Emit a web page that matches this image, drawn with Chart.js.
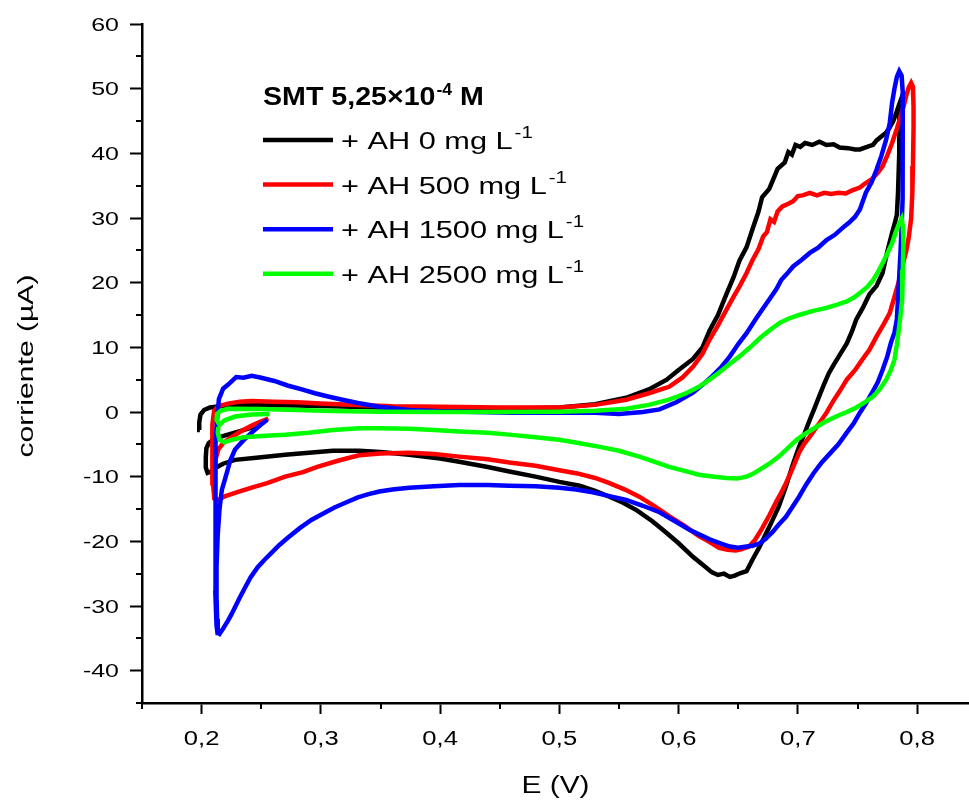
<!DOCTYPE html>
<html lang="es">
<head>
  <meta charset="UTF-8">
  <title>Voltametría cíclica SMT + AH</title>
  <script src="https://cdn.jsdelivr.net/npm/chart.js"></script>
  <style>
    body { margin: 0; background: #fff; }
    canvas { display: block; }
  </style>
</head>
<body>
  <canvas id="chart" width="969" height="800"></canvas>

  <script>
    // E (V) / corriente (uA)
    const eBlack = [0.1985, 0.198, 0.199, 0.202, 0.207, 0.215, 0.23, 0.25, 0.28, 0.31, 0.35, 0.40, 0.45, 0.50, 0.53, 0.556, 0.575, 0.59, 0.60, 0.612, 0.62, 0.626, 0.633, 0.640, 0.646, 0.651, 0.657, 0.662, 0.667, 0.670, 0.676, 0.683, 0.689, 0.692, 0.695, 0.698, 0.702, 0.706, 0.712, 0.718, 0.724, 0.730, 0.735, 0.742, 0.748, 0.752, 0.758, 0.763, 0.766, 0.770, 0.774, 0.777, 0.780, 0.783, 0.785, 0.786, 0.7855, 0.785, 0.784, 0.783, 0.781, 0.779, 0.775, 0.771, 0.766, 0.760, 0.755, 0.749, 0.745, 0.741, 0.735, 0.730, 0.726, 0.722, 0.718, 0.714, 0.710, 0.705, 0.701, 0.696, 0.690, 0.684, 0.676, 0.668, 0.662, 0.657, 0.652, 0.647, 0.643, 0.638, 0.633, 0.628, 0.620, 0.612, 0.600, 0.590, 0.578, 0.565, 0.553, 0.542, 0.530, 0.517, 0.50, 0.48, 0.458, 0.44, 0.416, 0.40, 0.374, 0.35, 0.332, 0.31, 0.29, 0.27, 0.25, 0.228, 0.218, 0.213, 0.208, 0.205, 0.2035, 0.2035, 0.204, 0.206, 0.209, 0.215, 0.222, 0.235, 0.25];
    const iBlack = [-2.8, -1.6, -0.4, 0.3, 0.7, 0.9, 1.0, 1.1, 1.0, 0.9, 0.7, 0.6, 0.5, 0.7, 1.2, 2.2, 3.5, 5.0, 6.5, 8.2, 10.0, 12.6, 15.0, 18.2, 20.8, 23.4, 25.5, 28.3, 31.0, 33.2, 34.5, 37.6, 38.6, 40.2, 39.8, 41.3, 41.0, 41.6, 41.3, 41.8, 41.3, 41.4, 40.9, 40.8, 40.6, 40.6, 41.0, 41.3, 42.0, 42.6, 43.2, 44.0, 45.0, 46.5, 47.6, 48.1, 46.0, 40.0, 34.0, 30.5, 29.0, 27.7, 24.8, 21.5, 19.5, 18.2, 16.3, 14.3, 12.3, 10.6, 8.8, 7.3, 6.0, 4.3, 2.5, 0.6, -1.2, -3.6, -5.4, -8.0, -11.5, -14.6, -17.8, -20.8, -22.8, -24.6, -24.9, -25.3, -25.5, -25.0, -25.2, -24.8, -23.6, -22.4, -20.3, -18.7, -16.9, -15.2, -14.0, -13.1, -12.2, -11.4, -10.8, -10.0, -9.2, -8.5, -7.7, -7.2, -6.6, -6.2, -6.0, -6.0, -6.3, -6.6, -7.0, -7.4, -8.0, -8.5, -9.2, -9.4, -8.6, -7.0, -5.6, -4.8, -4.4, -3.9, -3.5, -2.8, -2.0];

    const eRed = [0.256, 0.248, 0.24, 0.232, 0.225, 0.218, 0.214, 0.2115, 0.2105, 0.2105, 0.211, 0.2095, 0.209, 0.209, 0.2105, 0.214, 0.222, 0.232, 0.242, 0.26, 0.28, 0.30, 0.33, 0.36, 0.40, 0.45, 0.50, 0.53, 0.556, 0.575, 0.592, 0.603, 0.612, 0.620, 0.626, 0.633, 0.640, 0.646, 0.651, 0.657, 0.662, 0.667, 0.671, 0.674, 0.677, 0.680, 0.683, 0.687, 0.692, 0.696, 0.700, 0.704, 0.710, 0.716, 0.722, 0.728, 0.734, 0.740, 0.746, 0.752, 0.756, 0.762, 0.767, 0.771, 0.775, 0.779, 0.783, 0.786, 0.789, 0.791, 0.793, 0.795, 0.7965, 0.797, 0.797, 0.7965, 0.796, 0.795, 0.793, 0.791, 0.788, 0.785, 0.781, 0.777, 0.772, 0.766, 0.760, 0.754, 0.748, 0.741, 0.735, 0.730, 0.724, 0.717, 0.710, 0.705, 0.701, 0.695, 0.690, 0.686, 0.682, 0.676, 0.670, 0.664, 0.659, 0.653, 0.648, 0.641, 0.634, 0.625, 0.617, 0.605, 0.592, 0.580, 0.567, 0.555, 0.542, 0.53, 0.515, 0.50, 0.48, 0.458, 0.44, 0.416, 0.395, 0.374, 0.35, 0.332, 0.315, 0.297, 0.285, 0.270, 0.255, 0.242, 0.230, 0.220, 0.2135, 0.211];
    const iRed = [-1.0, -1.6, -2.3, -3.1, -3.9, -4.8, -5.8, -7.5, -10.5, -13.0, -13.6, -11.0, -6.0, -2.0, 0.2, 0.9, 1.3, 1.6, 1.7, 1.6, 1.5, 1.3, 1.1, 0.9, 0.8, 0.7, 0.7, 1.1, 1.9, 2.9, 3.9, 5.3, 7.0, 9.0, 11.2, 13.4, 15.8, 17.8, 19.4, 21.5, 23.5, 25.2, 27.2, 27.8, 29.8, 29.4, 31.0, 31.8, 32.2, 32.6, 33.4, 33.5, 33.9, 33.5, 33.9, 33.7, 33.9, 33.8, 34.3, 34.7, 35.3, 36.0, 37.0, 38.0, 39.7, 41.6, 43.8, 45.6, 47.5, 49.0, 50.2, 50.9, 50.3, 47.0, 44.0, 38.0, 34.0, 30.0, 27.0, 25.0, 22.8, 20.4, 17.8, 15.3, 13.6, 11.7, 9.6, 8.1, 6.5, 5.0, 3.2, 1.8, -0.1, -2.0, -3.8, -5.0, -6.3, -9.0, -11.0, -12.5, -13.8, -16.0, -18.0, -19.8, -20.8, -21.2, -21.4, -21.3, -21.0, -20.0, -19.2, -17.6, -16.1, -14.6, -13.1, -12.0, -11.0, -10.2, -9.5, -9.0, -8.3, -7.8, -7.3, -6.9, -6.5, -6.3, -6.4, -6.7, -7.5, -8.5, -9.3, -10.0, -11.0, -11.7, -12.4, -13.0, -13.6, -13.4];

    const eBlue = [0.255, 0.248, 0.242, 0.235, 0.228, 0.224, 0.221, 0.217, 0.215, 0.2135, 0.2125, 0.2125, 0.213, 0.2135, 0.2125, 0.2115, 0.2115, 0.2115, 0.212, 0.213, 0.2145, 0.218, 0.222, 0.226, 0.229, 0.235, 0.242, 0.25, 0.261, 0.272, 0.284, 0.295, 0.306, 0.318, 0.331, 0.349, 0.374, 0.40, 0.43, 0.46, 0.50, 0.53, 0.55, 0.57, 0.584, 0.598, 0.612, 0.620, 0.628, 0.636, 0.643, 0.650, 0.657, 0.664, 0.670, 0.676, 0.682, 0.686, 0.691, 0.696, 0.703, 0.710, 0.717, 0.724, 0.731, 0.737, 0.743, 0.748, 0.752, 0.757, 0.762, 0.766, 0.770, 0.774, 0.777, 0.779, 0.781, 0.783, 0.785, 0.787, 0.788, 0.788, 0.788, 0.7875, 0.787, 0.786, 0.785, 0.783, 0.781, 0.778, 0.775, 0.771, 0.767, 0.762, 0.757, 0.752, 0.747, 0.741, 0.734, 0.727, 0.720, 0.713, 0.707, 0.701, 0.695, 0.690, 0.684, 0.679, 0.673, 0.668, 0.662, 0.657, 0.650, 0.643, 0.635, 0.626, 0.618, 0.609, 0.597, 0.584, 0.570, 0.556, 0.542, 0.528, 0.514, 0.50, 0.48, 0.458, 0.44, 0.416, 0.395, 0.374, 0.36, 0.349, 0.340, 0.331, 0.321, 0.311, 0.302, 0.292, 0.282, 0.272, 0.265, 0.259, 0.253, 0.247, 0.241, 0.236, 0.232, 0.228, 0.225, 0.222, 0.218, 0.214];
    const iBlue = [-1.2, -2.2, -3.2, -4.4, -5.8, -7.5, -9.5, -12.0, -15.0, -19.0, -24.0, -28.5, -32.0, -34.5, -33.0, -28.0, -20.0, -12.0, -5.0, -1.0, 2.0, 3.6, 4.2, 4.9, 5.4, 5.3, 5.6, 5.3, 4.8, 4.1, 3.5, 2.9, 2.4, 1.9, 1.4, 0.8, 0.3, 0.1, 0.0, -0.1, -0.1, -0.1, -0.3, 0.0, 0.4, 1.5, 3.0, 4.2, 5.5, 7.0, 8.6, 10.5, 12.2, 14.2, 15.8, 17.4, 19.0, 20.4, 21.4, 22.5, 23.5, 24.6, 25.4, 26.6, 27.4, 28.4, 29.3, 30.2, 31.3, 33.9, 35.6, 37.5, 39.6, 42.1, 44.6, 47.8, 50.0, 51.8, 52.7, 52.0, 49.3, 44.0, 39.0, 33.0, 28.7, 24.5, 21.0, 14.3, 12.3, 10.7, 8.6, 6.5, 4.6, 2.9, 1.3, -0.1, -1.7, -3.2, -5.0, -6.4, -7.8, -9.5, -11.2, -13.1, -14.8, -16.2, -17.4, -18.5, -19.6, -20.3, -20.7, -20.8, -21.0, -20.8, -20.3, -19.7, -19.0, -18.2, -16.9, -15.5, -14.5, -13.6, -13.0, -12.4, -12.0, -11.7, -11.5, -11.4, -11.3, -11.3, -11.5, -11.7, -12.0, -12.3, -12.7, -13.2, -14.0, -14.8, -15.7, -16.7, -18.0, -19.5, -20.6, -21.7, -22.8, -24.0, -25.6, -27.3, -28.7, -30.2, -31.3, -32.3, -33.5, -34.6];

    const eGreen = [0.257, 0.242, 0.228, 0.219, 0.215, 0.2125, 0.213, 0.216, 0.222, 0.25, 0.28, 0.31, 0.35, 0.40, 0.45, 0.50, 0.53, 0.556, 0.575, 0.592, 0.605, 0.617, 0.626, 0.634, 0.642, 0.651, 0.660, 0.668, 0.676, 0.685, 0.693, 0.701, 0.712, 0.724, 0.733, 0.741, 0.747, 0.752, 0.758, 0.763, 0.767, 0.771, 0.775, 0.779, 0.782, 0.785, 0.787, 0.788, 0.7885, 0.788, 0.7875, 0.786, 0.785, 0.783, 0.781, 0.778, 0.774, 0.769, 0.763, 0.756, 0.749, 0.741, 0.732, 0.722, 0.712, 0.705, 0.699, 0.692, 0.684, 0.676, 0.668, 0.662, 0.657, 0.649, 0.640, 0.630, 0.617, 0.605, 0.592, 0.580, 0.567, 0.55, 0.534, 0.516, 0.50, 0.48, 0.458, 0.44, 0.416, 0.395, 0.374, 0.35, 0.332, 0.31, 0.29, 0.27, 0.25, 0.235, 0.225, 0.219, 0.215, 0.2135, 0.214];
    const iGreen = [-0.3, -0.4, -0.7, -1.3, -2.0, -1.2, -0.3, 0.2, 0.5, 0.45, 0.3, 0.15, 0.05, 0.0, 0.0, 0.05, 0.2, 0.5, 1.1, 1.9, 2.8, 3.9, 5.0, 6.1, 7.3, 8.6, 10.0, 11.4, 12.6, 13.8, 14.5, 15.0, 15.6, 16.1, 16.6, 17.1, 17.7, 18.4, 19.3, 20.4, 21.6, 23.0, 24.5, 26.1, 27.8, 29.2, 29.9, 28.8, 26.0, 22.0, 17.5, 14.8, 13.3, 10.4, 8.1, 6.5, 5.0, 3.6, 2.4, 1.5, 0.7, 0.0, -0.7, -1.6, -2.7, -3.5, -4.3, -5.5, -6.9, -8.0, -8.9, -9.6, -10.0, -10.3, -10.2, -10.0, -9.7, -9.1, -8.5, -7.7, -6.9, -6.0, -5.4, -4.8, -4.3, -3.9, -3.5, -3.2, -3.0, -2.8, -2.6, -2.5, -2.5, -2.8, -3.2, -3.5, -3.7, -3.9, -4.3, -4.7, -4.3, -3.2, -2.3];

    const seriesLabels = ['+ AH 0 mg L', '+ AH 500 mg L', '+ AH 1500 mg L', '+ AH 2500 mg L'];
    const seriesColors = ['#000000', '#ff0000', '#0000ff', '#00ff00'];
    const legendTitle = ['SMT 5,25\u00d710', '-4', ' M'];

    const xTicks = [0.2, 0.3, 0.4, 0.5, 0.6, 0.7, 0.8];
    const xTickLabels = ['0,2', '0,3', '0,4', '0,5', '0,6', '0,7', '0,8'];
    const xMinor = [0.15, 0.25, 0.35, 0.45, 0.55, 0.65, 0.75];
    const yTicks = [-40, -30, -20, -10, 0, 10, 20, 30, 40, 50, 60];
    const yMinor = [-45, -35, -25, -15, -5, 5, 15, 25, 35, 45, 55];

    const FONT = "'Liberation Sans', Arial, sans-serif";

    // the original lettering is wider than Arial, so stretch it along the text direction
    function drawText(ctx, text, x, y, o) {
      ctx.save();
      ctx.translate(x, y);
      if (o.rotate) ctx.rotate(o.rotate);
      ctx.scale(o.sx || 1, 1);
      ctx.font = o.font;
      ctx.fillStyle = '#000';
      ctx.textAlign = o.align || 'left';
      ctx.textBaseline = o.baseline || 'alphabetic';
      ctx.fillText(text, 0, 0);
      const w = ctx.measureText(text).width * (o.sx || 1);
      ctx.restore();
      return w;
    }

    const decor = {
      id: 'decor',
      afterDraw(chart) {
        const { ctx, chartArea } = chart;
        const x = chart.scales.x, y = chart.scales.y;

        // minor ticks
        ctx.save();
        ctx.strokeStyle = '#000';
        ctx.lineWidth = 2;
        xMinor.forEach(v => {
          const px = Math.round(x.getPixelForValue(v));
          ctx.beginPath();
          ctx.moveTo(px, chartArea.bottom);
          ctx.lineTo(px, chartArea.bottom + 6);
          ctx.stroke();
        });
        yMinor.forEach(v => {
          const py = Math.round(y.getPixelForValue(v));
          ctx.beginPath();
          ctx.moveTo(chartArea.left, py);
          ctx.lineTo(chartArea.left - 6, py);
          ctx.stroke();
        });
        ctx.restore();

        // tick labels
        xTicks.forEach((v, i) => {
          drawText(ctx, xTickLabels[i], x.getPixelForValue(v), 745,
            { font: '20px ' + FONT, sx: 1.28, align: 'center' });
        });
        yTicks.forEach(v => {
          drawText(ctx, String(v), 119, y.getPixelForValue(v) + 6.5,
            { font: '18.5px ' + FONT, sx: 1.35, align: 'right' });
        });

        // axis titles
        drawText(ctx, 'E (V)', (chartArea.left + chartArea.right) / 2, 793,
          { font: '23px ' + FONT, sx: 1.3, align: 'center' });
        drawText(ctx, 'corriente (\u00b5A)', 33, 366,
          { font: '21.5px ' + FONT, sx: 1.4, align: 'center', rotate: -Math.PI / 2 });

        // legend
        let lx = 263;
        lx += drawText(ctx, legendTitle[0], lx, 105, { font: 'bold 26px ' + FONT, sx: 1.1 });
        lx += drawText(ctx, legendTitle[1], lx + 1, 95, { font: 'bold 16px ' + FONT, sx: 1.1 });
        drawText(ctx, legendTitle[2], lx + 1, 105, { font: 'bold 26px ' + FONT, sx: 1.1 });

        seriesLabels.forEach((label, i) => {
          const ly = 140 + i * 44.6;
          ctx.save();
          ctx.strokeStyle = seriesColors[i];
          ctx.lineWidth = 4.5;
          ctx.beginPath();
          ctx.moveTo(263, ly);
          ctx.lineTo(333, ly);
          ctx.stroke();
          ctx.restore();
          const w = drawText(ctx, label, 341, ly + 9, { font: '24px ' + FONT, sx: 1.28 });
          drawText(ctx, '-1', 341 + w + 2, ly - 2, { font: '16px ' + FONT, sx: 1.28 });
        });
      }
    };

    function pairs(e, i) {
      return e.map((v, k) => ({ x: v, y: i[k] }));
    }

    const series = [pairs(eBlack, iBlack), pairs(eRed, iRed), pairs(eBlue, iBlue), pairs(eGreen, iGreen)];

    new Chart(document.getElementById('chart'), {
      type: 'scatter',
      data: {
        datasets: series.map((d, k) => ({
          label: seriesLabels[k],
          data: d,
          showLine: true,
          borderColor: seriesColors[k],
          borderWidth: 4.5,
          pointRadius: 0,
          tension: 0,
          fill: false,
          order: 4 - k
        }))
      },
      options: {
        responsive: false,
        devicePixelRatio: 1,
        animation: false,
        layout: { padding: { top: 24, right: 0, bottom: 0, left: 0 } },
        plugins: { legend: { display: false }, tooltip: { enabled: false } },
        scales: {
          x: {
            type: 'linear',
            min: 0.15,
            max: 0.8435,
            afterBuildTicks: s => { s.ticks = xTicks.map(v => ({ value: v })); },
            afterFit: s => { s.height = 97; },
            ticks: { display: false },
            grid: { drawOnChartArea: false, tickLength: 11, tickWidth: 2, tickColor: '#000' },
            border: { color: '#000', width: 2.5 }
          },
          y: {
            type: 'linear',
            min: -45,
            max: 60,
            afterBuildTicks: s => { s.ticks = yTicks.map(v => ({ value: v })); },
            afterFit: s => { s.width = 142; },
            ticks: { display: false },
            grid: { drawOnChartArea: false, tickLength: 12, tickWidth: 2, tickColor: '#000' },
            border: { color: '#000', width: 2.5 }
          }
        }
      },
      plugins: [decor]
    });
  </script>
</body>
</html>
